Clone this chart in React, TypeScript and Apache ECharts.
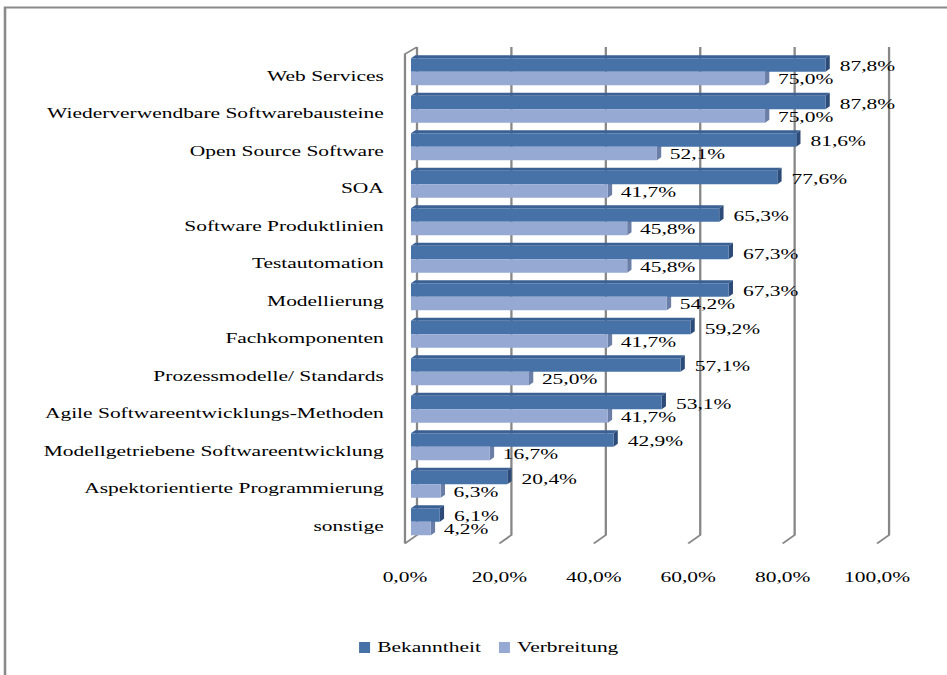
import React, { useEffect, useRef } from "react";
import * as echarts from "echarts";

const categories = [
  "Web Services",
  "Wiederverwendbare Softwarebausteine",
  "Open Source Software",
  "SOA",
  "Software Produktlinien",
  "Testautomation",
  "Modellierung",
  "Fachkomponenten",
  "Prozessmodelle/ Standards",
  "Agile Softwareentwicklungs-Methoden",
  "Modellgetriebene Softwareentwicklung",
  "Aspektorientierte Programmierung",
  "sonstige",
];
const bekanntheit = [87.8, 87.8, 81.6, 77.6, 65.3, 67.3, 67.3, 59.2, 57.1, 53.1, 42.9, 20.4, 6.1];
const verbreitung = [75.0, 75.0, 52.1, 41.7, 45.8, 45.8, 54.2, 41.7, 25.0, 41.7, 16.7, 6.3, 4.2];
const xTicks = [0, 20, 40, 60, 80, 100];
const seriesNames = ["Bekanntheit", "Verbreitung"];

const W = 947;
const H = 675;
const INNER_W = 662;
const SCALE = W / INNER_W;
const FONT = "Liberation Serif";
const DARK = "#4672A8";
const LIGHT = "#95A9D3";
const BAR_H = 13.5;

const fmt = (v: number) => v.toFixed(1).replace(".", ",") + "%";

export default function App() {
  const ref = useRef<HTMLDivElement>(null);
  useEffect(() => {
    if (!ref.current) return;
    const chart = echarts.init(ref.current, null, { renderer: "svg" });
    const gridStyle = { stroke: "#878787", lineWidth: 1.6, fill: null };
    const option: any = {
      animation: false,
      backgroundColor: "#ffffff",
      graphic: [
        {
          type: "rect",
          silent: true,
          shape: { x: 3.5, y: 7.5, width: 1000, height: 1000 },
          style: { fill: null, stroke: "#8a8a8a", lineWidth: 1.8 },
        },
      ],
      legend: {
        data: seriesNames.map((n) => ({ name: n, icon: "rect" })),
        left: 246,
        top: 635,
        itemWidth: 7.7,
        itemHeight: 11,
        itemGap: 12.6,
        itemStyle: { borderWidth: 0 },
        textStyle: { fontFamily: FONT, fontSize: 15, color: "#000" },
      },
      grid: { left: 287.3, right: 44.7, top: 53, bottom: 134.5, containLabel: false },
      xAxis: {
        type: "value",
        min: 0,
        max: 100,
        interval: 20,
        axisLine: { show: false },
        axisTick: { show: false },
        splitLine: { show: false },
        axisLabel: {
          formatter: (v: number) => "{a|" + fmt(v) + "}",
          margin: 29,
          rich: {
            a: {
              fontFamily: FONT,
              fontSize: 15,
              color: "#000",
              padding: [0, 8.4, 0, 0],
            },
          },
        },
      },
      yAxis: {
        type: "category",
        inverse: true,
        data: categories,
        axisLine: { show: false },
        axisTick: { show: false },
        splitLine: { show: false },
        axisLabel: {
          margin: 19,
          formatter: (v: string) => "{a|" + v + "}",
          rich: {
            a: {
              fontFamily: FONT,
              fontSize: 15,
              color: "#000",
              padding: [8.5, 0, 0, 0],
            },
          },
        },
      },
      series: [
        {
          type: "custom",
          name: "gridlines",
          silent: true,
          clip: false,
          data: xTicks.map((t) => [t, 0]),
          encode: { x: 0, y: 1 },
          renderItem: (params: any, api: any) => {
            const v = api.value(0);
            const cs = params.coordSys;
            const x = api.coord([v, 0])[0];
            const top = cs.y;
            const bot = cs.y + cs.height;
            const bx = x + 4.2;
            const fx = x - 4.2;
            const children: any[] = [
              {
                type: "polyline",
                shape: { points: [[bx, top - 6], [bx, bot - 5.5], [fx, bot + 3]] },
                style: gridStyle,
              },
            ];
            if (v === 0) {
              children.push({
                type: "polyline",
                shape: { points: [[bx, top - 6], [fx, top + 1], [fx, bot + 3]] },
                style: gridStyle,
              });
            }
            return { type: "group", children };
          },
        },
        {
          type: "custom",
          name: "faces",
          silent: true,
          clip: false,
          dimensions: ["cat", "b", "v"],
          data: categories.map((_, i) => [i, bekanntheit[i], verbreitung[i]]),
          encode: { y: 0, x: 1 },
          renderItem: (params: any, api: any) => {
            const i = api.value(0);
            const b = api.value(1);
            const v = api.value(2);
            const c = api.coord([0, i]);
            const x0 = c[0];
            const yc = c[1];
            const xb = api.coord([b, i])[0];
            const xv = api.coord([v, i])[0];
            const DX = 3;
            const DY = 3;
            return {
              type: "group",
              children: [
                {
                  type: "polygon",
                  shape: { points: [[x0, yc - BAR_H], [xb, yc - BAR_H], [xb + DX, yc - BAR_H - DY], [x0 + DX, yc - BAR_H - DY]] },
                  style: { fill: "#3B6194" },
                },
                {
                  type: "polygon",
                  shape: { points: [[xb, yc - BAR_H], [xb + DX, yc - BAR_H - DY], [xb + DX, yc - DY], [xb, yc]] },
                  style: { fill: "#2D4B78" },
                },
                {
                  type: "polygon",
                  shape: { points: [[xv, yc], [xv + DX, yc - DY], [xv + DX, yc + BAR_H - DY], [xv, yc + BAR_H]] },
                  style: { fill: "#6B7EA6" },
                },
              ],
            };
          },
        },
        {
          type: "bar",
          name: seriesNames[0],
          data: bekanntheit,
          barWidth: BAR_H,
          barGap: "0%",
          itemStyle: { color: DARK },
          label: {
            show: true,
            position: "right",
            distance: 10,
            offset: [0, 1.5],
            formatter: (p: any) => fmt(p.value),
            fontFamily: FONT,
            fontSize: 15,
            color: "#000",
          },
        },
        {
          type: "bar",
          name: seriesNames[1],
          data: verbreitung,
          barWidth: BAR_H,
          barGap: "0%",
          itemStyle: { color: LIGHT },
          label: {
            show: true,
            position: "right",
            distance: 9,
            offset: [0, 1],
            formatter: (p: any) => fmt(p.value),
            fontFamily: FONT,
            fontSize: 15,
            color: "#000",
          },
        },
      ],
    };
    chart.setOption(option);
    return () => chart.dispose();
  }, []);

  return (
    <div
      style={{
        position: "absolute",
        left: 0,
        top: 0,
        width: W,
        height: H,
        overflow: "hidden",
        background: "#fff",
      }}
    >
      <div
        ref={ref}
        style={{
          width: INNER_W,
          height: H,
          transform: `scaleX(${SCALE})`,
          transformOrigin: "0 0",
        }}
      />
    </div>
  );
}
